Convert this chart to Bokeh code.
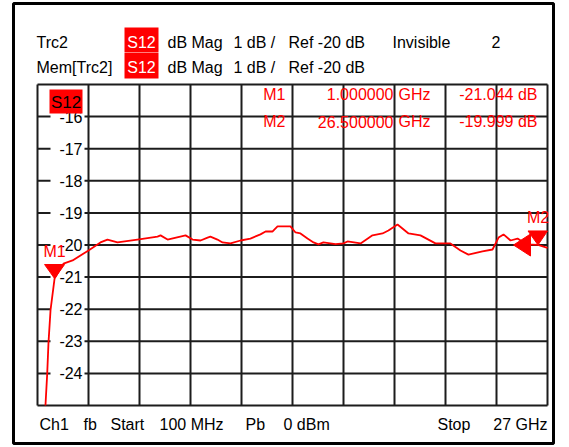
import numpy as np
from bokeh.plotting import figure
from bokeh.models import Range1d, ColumnDataSource
from bokeh.core.properties import value
from bokeh.embed import file_html
from bokeh.resources import INLINE

# ---------------- data ----------------
start_ghz = 0.1
stop_ghz = 27.0
ref_db = -20.0
scale_db = 1.0
n_div = 10

freq_ghz = [0.52, 0.61, 0.68, 0.79, 1.0, 1.47, 1.95, 2.79, 3.42, 3.79, 4.32, 5.37,
            6.43, 6.59, 6.96, 7.91, 8.28, 8.70, 9.07, 9.22, 9.59, 9.86, 10.28,
            10.81, 11.33, 11.86, 12.13, 12.49, 12.76, 13.44, 13.71, 13.97, 14.34,
            14.66, 14.92, 15.18, 15.82, 16.24, 16.45, 17.14, 17.77, 18.30, 18.61,
            19.09, 19.67, 20.30, 21.09, 21.88, 22.41, 22.83, 23.57, 24.10, 24.42,
            24.68, 25.05, 25.42, 25.89, 26.5, 27.0]
s12_db = [-25.0, -24.03, -23.04, -22.01, -21.044, -20.58, -20.48, -20.17, -19.92,
          -19.83, -19.92, -19.83, -19.74, -19.70, -19.83, -19.70, -19.83, -19.86,
          -19.77, -19.74, -19.83, -19.92, -19.95, -19.86, -19.80, -19.67, -19.58,
          -19.58, -19.42, -19.42, -19.61, -19.64, -19.80, -19.92, -19.98, -19.92,
          -19.97, -19.95, -19.89, -19.95, -19.70, -19.64, -19.55, -19.36, -19.64,
          -19.70, -19.95, -19.95, -20.17, -20.30, -20.20, -20.14, -19.77, -19.67,
          -19.86, -19.80, -19.98, -19.999, -20.09]

y_tick_values = [-16, -17, -18, -19, -20, -21, -22, -23, -24]
y_tick_labels = ["-16", "-17", "-18", "-19", "-20", "-21", "-22", "-23", "-24"]

marker_names = ["M1", "M2"]
marker_freq = [1.0, 26.5]
marker_db = [-21.044, -19.999]
marker_freq_text = ["1.000000", "26.500000"]
marker_unit_text = ["GHz", "GHz"]
marker_db_text = ["-21.044 dB", "-19.999 dB"]

header_row1 = ["Trc2", "dB Mag", "1 dB /", "Ref -20 dB", "Invisible"]
header_row2 = ["Mem[Trc2]", "dB Mag", "1 dB /", "Ref -20 dB"]
param_text = ["S12", "S12"]
window_no = ["2"]
footer_left = ["Ch1", "fb", "Start", "100 MHz", "Pb", "0 dBm", "Stop"]
footer_right = ["27 GHz"]

# ---------------- layout (page pixels) ----------------
PX0, PX1 = 37, 547      # start / stop
PY0, PY1 = 84, 405      # top / bottom of diagram
y_top = ref_db + n_div / 2 * scale_db
y_bot = ref_db - n_div / 2 * scale_db
kx = (PX1 - PX0) / (stop_ghz - start_ghz)
ky = (PY1 - PY0) / (y_top - y_bot)


def X(px):
    return start_ghz + (px - PX0) / kx


def Y(py):
    return y_top - (py - PY0) / ky


W, H = 569, 447
FL, FR, FT, FB = 13, 553, 3, 443   # outer frame edges
p = figure(width=W, height=H, output_backend="svg", toolbar_location=None,
           x_range=Range1d(X(FL), X(FR)), y_range=Range1d(Y(FB), Y(FT)),
           x_axis_type=None, y_axis_type=None,
           min_border_left=FL, min_border_right=W - FR, min_border_top=FT,
           min_border_bottom=H - FB,
           background_fill_color="white", border_fill_color="white",
           outline_line_color="black", outline_line_width=3)

FONT = value("Liberation Sans")
RED = "#ff0000"
GRID = "#1c1c1c"
TXT = dict(text_font=FONT, text_font_size="16px", text_baseline="middle")

# grid
x_ticks = np.linspace(start_ghz, stop_ghz, n_div + 1)
y_ticks = np.linspace(y_bot, y_top, n_div + 1)
p.segment(x0=x_ticks, y0=[y_bot] * len(x_ticks), x1=x_ticks, y1=[y_top] * len(x_ticks),
          line_color=GRID, line_width=2)
p.segment(x0=[start_ghz] * len(y_ticks), y0=y_ticks, x1=[stop_ghz] * len(y_ticks), y1=y_ticks,
          line_color=GRID, line_width=2)

# y labels with white background
yl = ColumnDataSource(dict(v=y_tick_values, t=y_tick_labels))
p.quad(left=X(50), right=X(84),
       bottom=[v - 9 / ky for v in y_tick_values], top=[v + 9 / ky for v in y_tick_values],
       fill_color="white", line_color=None)
p.text(x=X(82), y="v", text="t", source=yl, text_color="black", text_align="right", **TXT)

# trace
p.line(freq_ghz, s12_db, line_color=RED, line_width=1.8)

# trace label box in diagram
p.quad(left=X(49), right=X(82), top=Y(89), bottom=Y(113), fill_color=RED, line_color=None)
p.text(x=[X(65.5)], y=[Y(102)], text=[param_text[0]], text_font=FONT, text_font_size="17px",
       text_color="black", text_align="center", text_baseline="middle")

# reference level indicator
p.patch(x=[X(513), X(530), X(530)], y=[ref_db, ref_db + 11 / ky, ref_db - 11 / ky],
        fill_color=RED, line_color=RED)

# markers
hw, hh = 10 / kx, 14 / ky
p.patches(xs=[[f - hw, min(f + hw, stop_ghz), f] for f in marker_freq],
          ys=[[v + hh, v + hh, v] for v in marker_db],
          fill_color=RED, line_color=RED)
p.text(x=marker_freq, y=[v + hh + 13 / ky for v in marker_db], text=marker_names,
       text_color=RED, text_align="center", **TXT)

# marker table
rows_y = [Y(93.5), Y(121)]
p.text(x=[X(285)] * 2, y=rows_y, text=marker_names, text_color=RED, text_align="right", **TXT)
p.text(x=[X(393)] * 2, y=rows_y, text=marker_freq_text, text_color=RED, text_align="right", **TXT)
p.text(x=[X(398)] * 2, y=rows_y, text=marker_unit_text, text_color=RED, text_align="left", **TXT)
p.text(x=[X(537)] * 2, y=rows_y, text=marker_db_text, text_color=RED, text_align="right", **TXT)

# header
p.text(x=[X(36), X(167), X(233), X(288), X(392)], y=[Y(41.5)] * 5, text=header_row1,
       text_color="black", text_align="left", **TXT)
p.text(x=[X(36), X(167), X(233), X(288)], y=[Y(67)] * 4, text=header_row2,
       text_color="black", text_align="left", **TXT)
p.text(x=[X(500)], y=[Y(41.5)], text=window_no, text_color="black", text_align="right", **TXT)
p.quad(left=X(124), right=X(158), top=[Y(27), Y(52.5)], bottom=[Y(52), Y(78)],
       fill_color=RED, line_color=None)
p.text(x=[X(141)] * 2, y=[Y(41.5), Y(67)], text=param_text, text_color="white",
       text_align="center", **TXT)

# footer
p.text(x=[X(39), X(83), X(110), X(159), X(245), X(283), X(437)], y=[Y(423.5)] * 7,
       text=footer_left, text_color="black", text_align="left", **TXT)
p.text(x=[X(547)], y=[Y(423.5)], text=footer_right, text_color="black", text_align="right", **TXT)

open("out.html", "w").write(file_html(p, INLINE))
